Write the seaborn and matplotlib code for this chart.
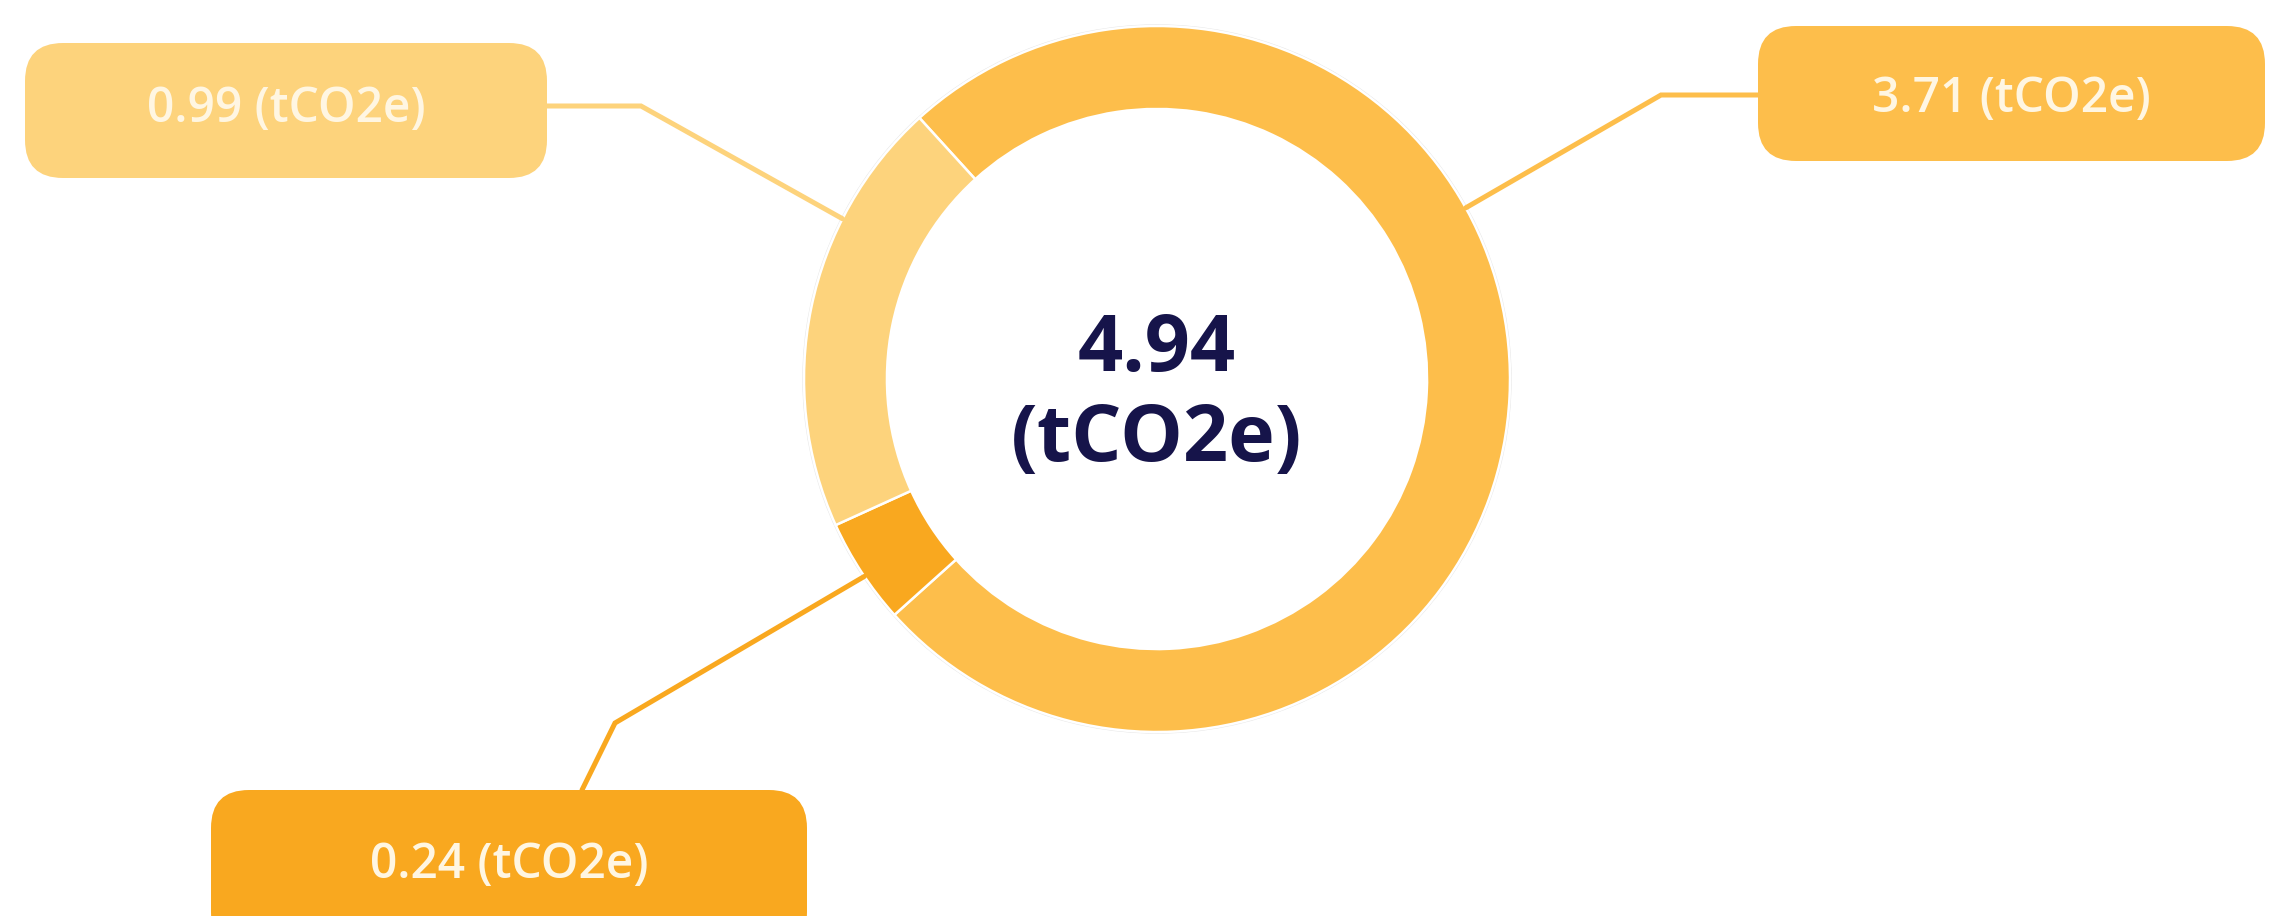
import numpy as np
import matplotlib
matplotlib.use("Agg")
import matplotlib.pyplot as plt
import seaborn as sns
from matplotlib.patches import FancyBboxPatch, Circle

# ---- data ----
values = [3.71, 0.24, 0.99]
labels = ["3.71 (tCO2e)", "0.24 (tCO2e)", "0.99 (tCO2e)"]
total_value = "4.94"
unit = "(tCO2e)"
colors = ["#FDBE4B", "#F9A81F", "#FDD37C"]

# ---- layout (pixel space, y measured from top) ----
W, H = 2269, 916
center_px = (1157, 379)
R = 353
ring_frac = 0.235
start_angle = 132.3
# label boxes: (x0, y0_top, x1, y1_bottom)
boxes = [(1758, 26, 2265, 161), (211, 790, 807, 950), (25, 43, 547, 178)]
text_y = [99, 866, 110]
# connector: anchor angle on ring, bend point, start on box
anchor_angles = [29.0, 214.0, 153.0]
bend_pts = [(1661, 95), (615, 723), (641, 106)]
box_pts = [(1758, 95), (582, 790), (547, 106)]

sns.set_theme(style="white")
plt.rcParams['font.family'] = ['Open Sans', 'DejaVu Sans']

fig = plt.figure(figsize=(W / 100, H / 100), dpi=100)
ax = fig.add_axes([0, 0, 1, 1])
cx, cy = center_px[0], H - center_px[1]

wedges, _ = ax.pie(values, colors=colors, startangle=start_angle, counterclock=False,
                   radius=R, center=(cx, cy),
                   wedgeprops=dict(width=R * ring_frac, edgecolor="white", linewidth=1.8))
ax.add_patch(Circle((cx, cy), R + 1, fill=False, edgecolor="#E6E6E6", linewidth=1.0, zorder=0))

for i in range(len(values)):
    col = colors[i]
    ang = np.deg2rad(anchor_angles[i])
    ax_, ay_ = cx + R * np.cos(ang), cy + R * np.sin(ang)
    bx, by = bend_pts[i]
    sx, sy = box_pts[i]
    ax.plot([sx, bx, ax_], [H - sy, H - by, ay_], color=col, lw=3.6,
            solid_joinstyle="miter", zorder=1)
    x0, y0, x1, y1 = boxes[i]
    r = 38
    patch = FancyBboxPatch((x0 + r, H - y1 + r), (x1 - x0) - 2 * r, (y1 - y0) - 2 * r,
                           boxstyle=f"round,pad={r},rounding_size={r}",
                           facecolor=col, edgecolor="none", zorder=2)
    ax.add_patch(patch)
    ax.text((x0 + x1) / 2, H - text_y[i], labels[i], ha="center", va="center",
            fontsize=34.5, fontweight="semibold", color="#FFF6E2", zorder=3)

ax.text(cx, H - 350, total_value, ha="center", va="center", fontsize=57,
        fontweight="bold", color="#16144A")
ax.text(cx, H - 440, unit, ha="center", va="center", fontsize=57,
        fontweight="bold", color="#16144A")

ax.set_xlim(0, W)
ax.set_ylim(0, H)
ax.set_aspect("equal")
ax.axis("off")
fig.savefig("out.png", dpi=100, facecolor="white")
